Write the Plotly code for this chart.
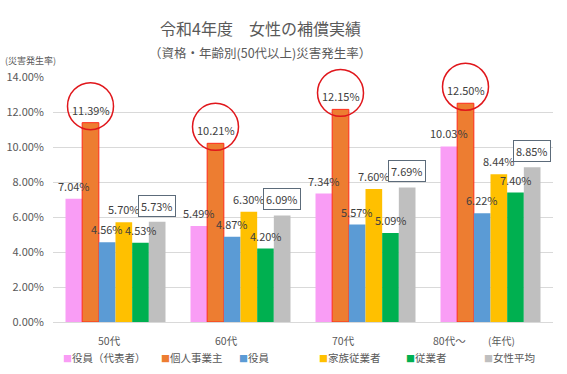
import plotly.graph_objects as go

categories = ["50代", "60代", "70代", "80代～"]
series_names = ["役員（代表者）", "個人事業主", "役員", "家族従業者", "従業者", "女性平均"]
rep_officer = [7.04, 5.49, 7.34, 10.03]
sole_prop = [11.39, 10.21, 12.15, 12.50]
officer = [4.56, 4.87, 5.57, 6.22]
family_worker = [5.70, 6.30, 7.60, 8.44]
worker = [4.53, 4.20, 5.09, 7.40]
female_avg = [5.73, 6.09, 7.69, 8.85]
y_ticks = [0, 2, 4, 6, 8, 10, 12, 14]

series_values = [rep_officer, sole_prop, officer, family_worker, worker, female_avg]
colors = ["#F99DF5", "#ED7D31", "#5B9BD5", "#FFC000", "#00B050", "#BFBFBF"]

FONT = "Noto Sans CJK JP"
TXT = "#595959"
BARGAP = 0.2
n = len(series_values)
W, H = 567, 374
ML, MR, MT, MB = 53, 14, 77, 52
PW, PH = W - ML - MR, H - MT - MB
Y_MIN, Y_MAX = y_ticks[0], y_ticks[-1]

fig = go.Figure()
for j, (name, vals, col) in enumerate(zip(series_names, series_values, colors)):
    line = dict(color="#FF2A1A", width=1) if j == 1 else dict(width=0)
    fig.add_trace(go.Bar(name=name, x=categories, y=vals, showlegend=False,
                         hoverinfo="skip",
                         marker=dict(color=col, line=line)))

annotations = []
shapes = []
slot = (1 - BARGAP) / n
for j, vals in enumerate(series_values):
    off = (j - (n - 1) / 2) * slot
    for i, v in enumerate(vals):
        xpos = i + off
        if j == n - 1:
            annotations.append(dict(x=xpos, y=v, xref="x", yref="y", text=f"{v:.2f}%",
                                    showarrow=False, yanchor="bottom", yshift=5,
                                    font=dict(family=FONT, size=11, color="#404040"),
                                    bordercolor="#5C6B7A", borderwidth=1, borderpad=2,
                                    bgcolor="white"))
        else:
            annotations.append(dict(x=xpos, y=v, xref="x", yref="y", text=f"{v:.2f}%",
                                    showarrow=False, yanchor="bottom", yshift=3,
                                    font=dict(family=FONT, size=11, color="#404040")))
        if j == 1:
            # red highlight circle round the label (paper y so it is not clipped)
            shapes.append(dict(type="circle", xref="x", yref="paper",
                               xsizemode="pixel", ysizemode="pixel",
                               xanchor=xpos, yanchor=(v - Y_MIN) / (Y_MAX - Y_MIN),
                               x0=-23, x1=23, y0=-7, y1=40,
                               line=dict(color="#E0161B", width=1.5)))

# category labels (placed as in the reference, slightly left of the group centres)
cat_shift = [-6, -14, -22, -41]
for i, c in enumerate(categories):
    annotations.append(dict(x=i, y=0, xref="x", yref="y", text=c, showarrow=False,
                            xshift=cat_shift[i], yshift=-18, yanchor="middle",
                            font=dict(family=FONT, size=10.5, color=TXT)))

# legend drawn as text items
legend_px = [61, 159, 237, 317, 404, 482]
for k, (name, col) in enumerate(zip(series_names, colors)):
    annotations.append(dict(
        x=(legend_px[k] - ML) / PW, y=0, xref="paper", yref="paper",
        xanchor="left", yanchor="middle", yshift=-35, showarrow=False,
        text=f"<span style='color:{col};font-size:9px'>■</span>{name}",
        font=dict(family=FONT, size=10.5, color=TXT)))

annotations += [
    dict(text="令和4年度　女性の補償実績", xref="paper", yref="paper",
         x=(260 - ML) / PW, y=1.0, yanchor="middle", yshift=49, showarrow=False,
         font=dict(family=FONT, size=16, color=TXT)),
    dict(text="（資格・年齢別(50代以上)災害発生率）", xref="paper", yref="paper",
         x=(260 - ML) / PW, y=1.0, yanchor="middle", yshift=25, showarrow=False,
         font=dict(family=FONT, size=12.5, color=TXT)),
    dict(text="(災害発生率)", xref="paper", yref="paper",
         x=(3 - ML) / PW, xanchor="left", y=1.0, yanchor="middle", yshift=17,
         showarrow=False, font=dict(family=FONT, size=9, color=TXT)),
    dict(text="(年代)", xref="paper", yref="paper",
         x=(486 - ML) / PW, xanchor="left", y=0, yanchor="middle", yshift=-18,
         showarrow=False, font=dict(family=FONT, size=10, color=TXT)),
]

fig.update_layout(
    width=W, height=H,
    margin=dict(l=ML, r=MR, t=MT, b=MB, autoexpand=False),
    barmode="group", bargap=BARGAP, bargroupgap=0,
    plot_bgcolor="white", paper_bgcolor="white",
    font=dict(family=FONT, color=TXT),
    showlegend=False,
    annotations=annotations, shapes=shapes,
    xaxis=dict(showgrid=False, showline=True, linecolor="#D9D9D9", linewidth=1,
               showticklabels=False, ticks=""),
    yaxis=dict(range=[Y_MIN, Y_MAX], tickvals=y_ticks,
               ticktext=[f"{t:.2f}%" for t in y_ticks],
               gridcolor="#D9D9D9", gridwidth=1, zeroline=False, showline=False,
               ticklabelstandoff=8,
               tickfont=dict(family=FONT, size=11, color=TXT)),
)

fig.write_html("out.html", config={"displayModeBar": False},
               post_script="document.body.style.margin='0';")
